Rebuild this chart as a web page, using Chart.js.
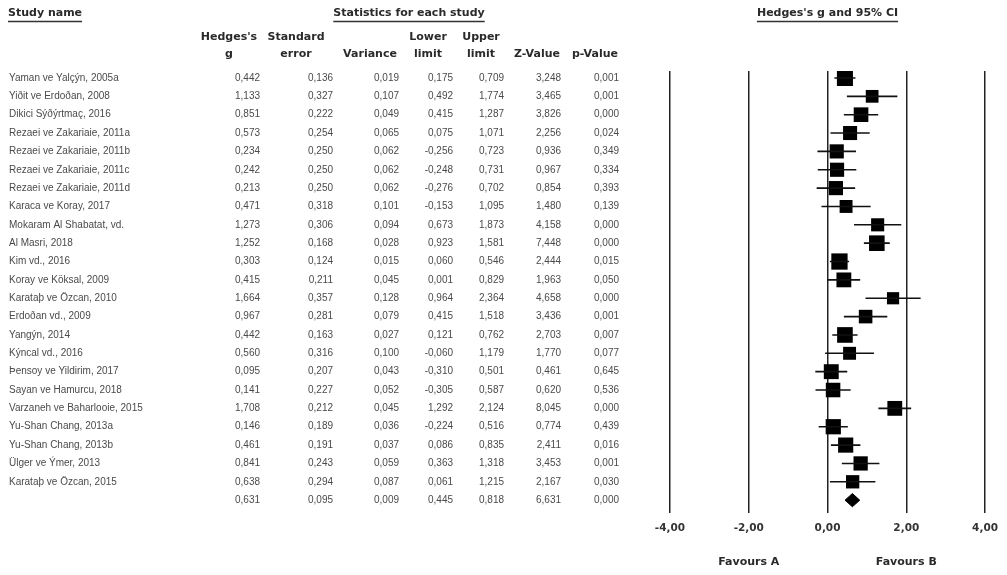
<!DOCTYPE html>
<html lang="tr">
<head>
<meta charset="UTF-8">
<title>Forest plot</title>
<script src="https://cdn.jsdelivr.net/npm/chart.js@4.4.0/dist/chart.umd.min.js"></script>
<style>
  body { margin: 0; background: #fff; }
  #wrap { width: 1007px; height: 575px; position: relative; }
</style>
</head>
<body>
<div id="wrap"><canvas id="forest"></canvas></div>
<script>
// study rows (last entry of each stat array is the pooled row)
const studies = [
  'Yaman ve Yalçýn, 2005a', 'Yiðit ve Erdoðan, 2008', 'Dikici Sýðýrtmaç, 2016',
  'Rezaei ve Zakariaie, 2011a', 'Rezaei ve Zakariaie, 2011b', 'Rezaei ve Zakariaie, 2011c',
  'Rezaei ve Zakariaie, 2011d', 'Karaca ve Koray, 2017', 'Mokaram Al Shabatat, vd.',
  'Al Masri, 2018', 'Kim vd., 2016', 'Koray ve Köksal, 2009', 'Karataþ ve Özcan, 2010',
  'Erdoðan vd., 2009', 'Yangýn, 2014', 'Kýncal vd., 2016', 'Þensoy ve Yildirim, 2017',
  'Sayan ve Hamurcu, 2018', 'Varzaneh ve Baharlooie, 2015', 'Yu-Shan Chang, 2013a',
  'Yu-Shan Chang, 2013b', 'Ülger ve Ýmer, 2013', 'Karataþ ve Özcan, 2015', ''
];
const hedgesG = [0.442, 1.133, 0.851, 0.573, 0.234, 0.242, 0.213, 0.471, 1.273, 1.252, 0.303, 0.415,
  1.664, 0.967, 0.442, 0.560, 0.095, 0.141, 1.708, 0.146, 0.461, 0.841, 0.638, 0.631];
const stdErr = [0.136, 0.327, 0.222, 0.254, 0.250, 0.250, 0.250, 0.318, 0.306, 0.168, 0.124, 0.211,
  0.357, 0.281, 0.163, 0.316, 0.207, 0.227, 0.212, 0.189, 0.191, 0.243, 0.294, 0.095];
const variance = [0.019, 0.107, 0.049, 0.065, 0.062, 0.062, 0.062, 0.101, 0.094, 0.028, 0.015, 0.045,
  0.128, 0.079, 0.027, 0.100, 0.043, 0.052, 0.045, 0.036, 0.037, 0.059, 0.087, 0.009];
const lowerLim = [0.175, 0.492, 0.415, 0.075, -0.256, -0.248, -0.276, -0.153, 0.673, 0.923, 0.060, 0.001,
  0.964, 0.415, 0.121, -0.060, -0.310, -0.305, 1.292, -0.224, 0.086, 0.363, 0.061, 0.445];
const upperLim = [0.709, 1.774, 1.287, 1.071, 0.723, 0.731, 0.702, 1.095, 1.873, 1.581, 0.546, 0.829,
  2.364, 1.518, 0.762, 1.179, 0.501, 0.587, 2.124, 0.516, 0.835, 1.318, 1.215, 0.818];
const zValue = [3.248, 3.465, 3.826, 2.256, 0.936, 0.967, 0.854, 1.480, 4.158, 7.448, 2.444, 1.963,
  4.658, 3.436, 2.703, 1.770, 0.461, 0.620, 8.045, 0.774, 2.411, 3.453, 2.167, 6.631];
const pValue = [0.001, 0.001, 0.000, 0.024, 0.349, 0.334, 0.393, 0.139, 0.000, 0.000, 0.015, 0.050,
  0.000, 0.001, 0.007, 0.077, 0.645, 0.536, 0.000, 0.439, 0.016, 0.001, 0.030, 0.000];
const xTicks = [-4, -2, 0, 2, 4];
const favours = ['Favours A', 'Favours B'];

const nStudies = studies.length - 1;
const pooled = nStudies;
const tau2 = 0.13;

const fmt = v => v.toFixed(3).replace('.', ',');
const boldFont = 'bold 11px "DejaVu Sans", Verdana, sans-serif';

// whiskers: one line with gaps between studies
const whiskers = [];
for (let i = 0; i < nStudies; i++) {
  whiskers.push({ x: lowerLim[i], y: i }, { x: upperLim[i], y: i }, { x: null, y: null });
}
const boxes = [];
const boxRadius = [];
for (let i = 0; i < nStudies; i++) {
  boxes.push({ x: hedgesG[i], y: i });
  const side = 6.2 * Math.sqrt(1 / (variance[i] + tau2));
  boxRadius.push(side / Math.SQRT2);
}
const diamond = [
  { x: lowerLim[pooled], y: pooled },
  { x: hedgesG[pooled], y: pooled - 0.36 },
  { x: upperLim[pooled], y: pooled },
  { x: hedgesG[pooled], y: pooled + 0.36 },
  { x: lowerLim[pooled], y: pooled }
];

const cols = [
  { arr: hedgesG, right: 260 },
  { arr: stdErr, right: 333 },
  { arr: variance, right: 399 },
  { arr: lowerLim, right: 453 },
  { arr: upperLim, right: 504 },
  { arr: zValue, right: 561 },
  { arr: pValue, right: 619 }
];
const colHeads = [
  ['Hedges\'s', 'g', 229], ['Standard', 'error', 296], ['', 'Variance', 370],
  ['Lower', 'limit', 428], ['Upper', 'limit', 481], ['', 'Z-Value', 537], ['', 'p-Value', 595]
];

const tablePlugin = {
  id: 'table',
  afterDraw(chart) {
    const ctx = chart.ctx;
    const y = chart.scales.y;
    const x = chart.scales.x;
    ctx.save();
    ctx.textBaseline = 'middle';

    // top titles with underline
    ctx.font = boldFont;
    ctx.fillStyle = '#2a2a2a';
    ctx.strokeStyle = '#333';
    ctx.lineWidth = 1.3;
    const title = (txt, cx, align) => {
      ctx.textAlign = align;
      ctx.fillText(txt, cx, 13);
      const w = ctx.measureText(txt).width;
      const x0 = align === 'left' ? cx : cx - w / 2;
      ctx.beginPath();
      ctx.moveTo(x0, 21.5);
      ctx.lineTo(x0 + w, 21.5);
      ctx.stroke();
    };
    title('Study name', 8, 'left');
    title('Statistics for each study', 409, 'center');
    title('Hedges\'s g and 95% CI', x.getPixelForValue(0), 'center');

    ctx.textAlign = 'center';
    colHeads.forEach(h => {
      if (h[0]) ctx.fillText(h[0], h[2], 37);
      ctx.fillText(h[1], h[2], 54);
    });

    // rows
    ctx.font = '10px "Liberation Sans", Arial, sans-serif';
    ctx.fillStyle = '#4a4a4a';
    for (let i = 0; i < studies.length; i++) {
      const py = y.getPixelForValue(i);
      ctx.textAlign = 'left';
      ctx.fillText(studies[i], 9, py);
      ctx.textAlign = 'right';
      cols.forEach(c => ctx.fillText(fmt(c.arr[i]), c.right, py));
    }

    // favours labels
    ctx.font = boldFont;
    ctx.fillStyle = '#2a2a2a';
    ctx.textAlign = 'center';
    ctx.fillText(favours[0], x.getPixelForValue(-2), 562);
    ctx.fillText(favours[1], x.getPixelForValue(2), 562);
    ctx.restore();
  }
};

new Chart(document.getElementById('forest'), {
  type: 'scatter',
  data: {
    datasets: [
      {
        type: 'line',
        data: whiskers,
        borderColor: '#111',
        borderWidth: 1.6,
        pointRadius: 0,
        spanGaps: false,
        fill: false
      },
      {
        data: boxes,
        pointStyle: 'rect',
        pointRadius: boxRadius,
        backgroundColor: '#000',
        borderWidth: 0
      },
      {
        type: 'line',
        data: diamond,
        borderColor: '#000',
        backgroundColor: '#000',
        borderWidth: 1,
        pointRadius: 0,
        fill: 'shape'
      }
    ]
  },
  options: {
    responsive: true,
    maintainAspectRatio: false,
    animation: false,
    layout: { padding: { left: 670, right: 15, top: 71, bottom: 0 } },
    plugins: { legend: { display: false }, tooltip: { enabled: false } },
    scales: {
      x: {
        type: 'linear',
        min: -4,
        max: 4,
        afterFit: axis => { axis.height = 62; },
        afterBuildTicks: axis => { axis.ticks = xTicks.map(v => ({ value: v })); },
        ticks: {
          padding: 9,
          color: '#333',
          font: { family: '"DejaVu Sans", Verdana, sans-serif', size: 10.5, weight: 'bold' },
          callback: v => v.toFixed(2).replace('.', ',')
        },
        grid: { color: '#222', lineWidth: 1.5, drawTicks: false },
        border: { display: false }
      },
      y: {
        type: 'linear',
        reverse: true,
        min: -0.38,
        max: 23.7,
        display: false
      }
    }
  },
  plugins: [tablePlugin]
});
</script>
</body>
</html>
